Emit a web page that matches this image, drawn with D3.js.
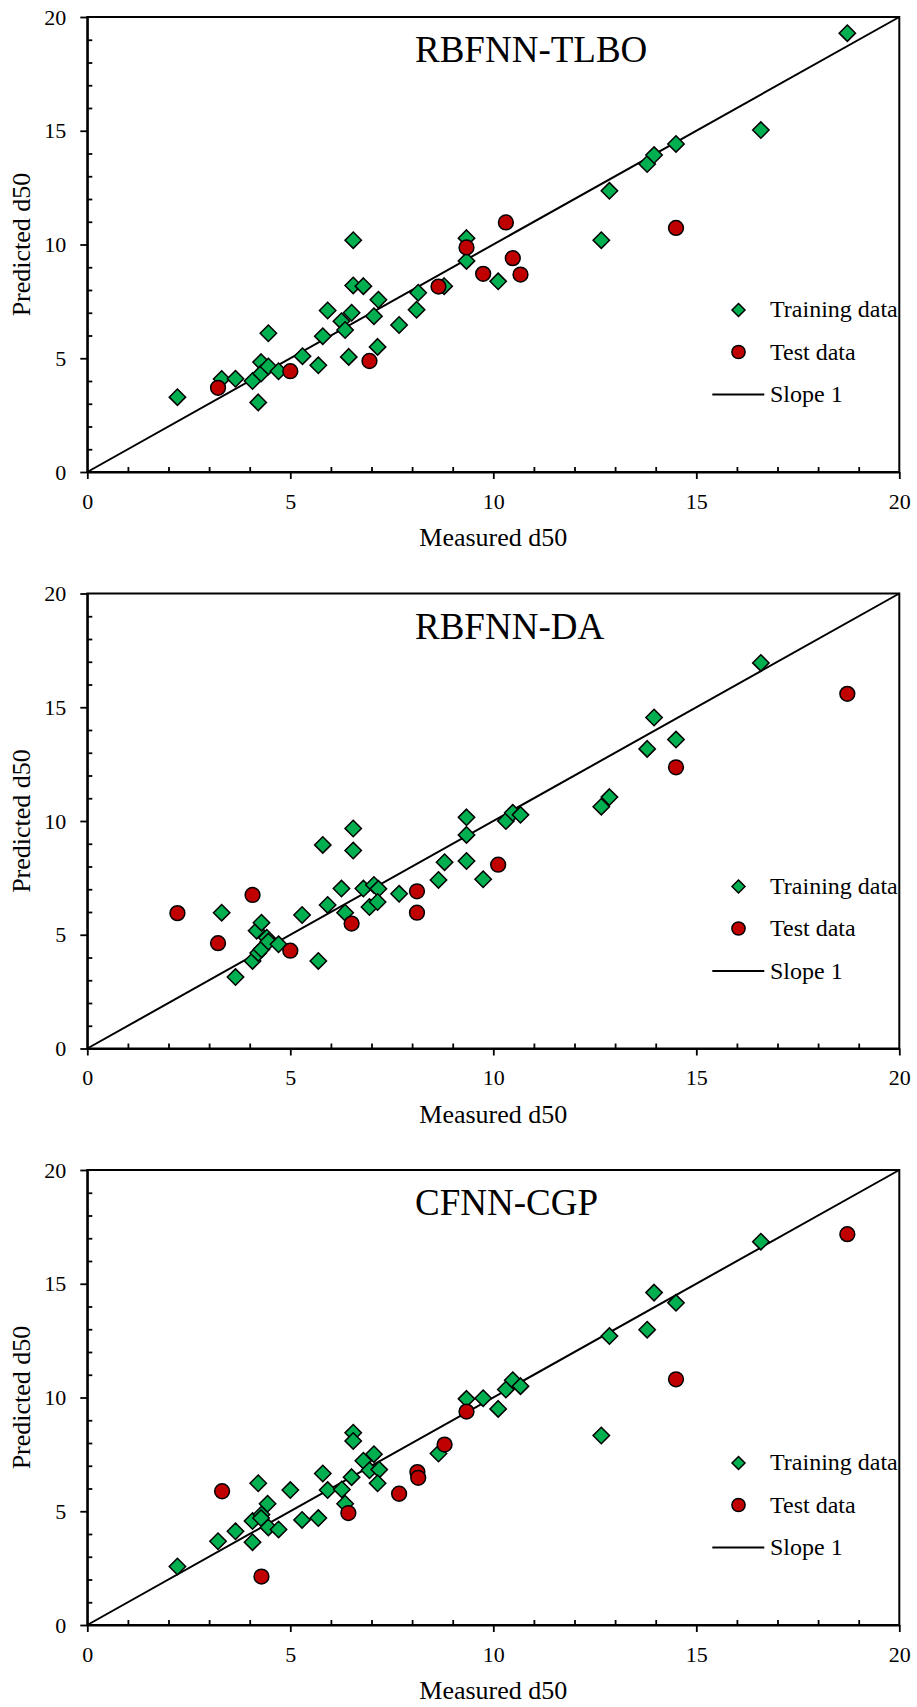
<!DOCTYPE html>
<html>
<head>
<meta charset="utf-8">
<script src="https://cdnjs.cloudflare.com/ajax/libs/d3/7.8.5/d3.min.js"></script>
<style>
  body { margin: 0; background: #fff; }
  text { font-family: 'Liberation Serif', 'Times New Roman', serif; fill: #000; }
</style>
</head>
<body>
<div class="chartContainer"></div>
<script>
const titles = ['RBFNN-TLBO', 'RBFNN-DA', 'CFNN-CGP'];
const majorTicks = [0, 5, 10, 15, 20];
const legendLabels = ['Training data', 'Test data', 'Slope 1'];
const xLabel = 'Measured d50';
const yLabel = 'Predicted d50';

// [measured, predicted]
const tlboTrain = [[2.22,3.29],[3.31,4.09],[3.65,4.10],[4.07,4.00],[4.21,3.06],[4.28,4.83],[4.28,4.33],[4.46,4.64],[4.46,6.10],[4.71,4.43],[5.30,5.09],[5.69,4.69],[5.80,5.97],[5.92,7.10],[6.26,6.63],[6.35,6.24],[6.44,5.06],[6.51,7.00],[6.55,8.20],[6.55,10.19],[6.80,8.17],[7.06,6.85],[7.17,7.57],[7.15,5.50],[7.68,6.46],[8.11,7.13],[8.15,7.88],[8.79,8.17],[9.34,10.28],[9.34,9.28],[10.12,8.38],[12.66,10.19],[12.86,12.36],[13.79,13.54],[13.96,13.93],[14.50,14.42],[16.59,15.03],[18.72,19.29]];
const tlboTest = [[3.22,3.70],[5.00,4.43],[6.95,4.88],[8.65,8.15],[9.34,9.87],[9.75,8.71],[10.31,10.97],[10.48,9.40],[10.67,8.68],[14.50,10.73]];

const daTrain = [[3.31,5.97],[3.65,3.14],[4.07,3.85],[4.17,5.18],[4.21,4.20],[4.29,5.53],[4.29,4.36],[4.42,4.87],[4.46,4.70],[4.71,4.58],[5.29,5.87],[5.69,3.85],[5.80,8.95],[5.92,6.31],[6.26,7.03],[6.35,5.97],[6.55,9.67],[6.55,8.70],[6.80,7.03],[6.95,6.22],[7.06,7.19],[7.17,7.02],[7.15,6.44],[7.68,6.80],[8.65,7.41],[8.80,8.19],[9.34,10.16],[9.34,9.39],[9.34,8.24],[9.75,7.44],[10.31,10.00],[10.48,10.36],[10.67,10.27],[12.66,10.63],[12.86,11.05],[13.79,13.17],[13.96,14.55],[14.50,13.58],[16.59,16.95]];
const daTest = [[2.22,5.95],[3.22,4.63],[4.07,6.75],[5.00,4.30],[6.51,5.49],[8.12,6.91],[8.12,5.97],[10.12,8.08],[14.50,12.36],[18.72,15.59]];

const cgpTrain = [[2.22,2.57],[3.22,3.68],[3.65,4.12],[4.07,3.64],[4.07,4.57],[4.21,6.23],[4.29,4.86],[4.28,4.70],[4.44,5.33],[4.46,4.29],[4.71,4.20],[5.00,5.93],[5.29,4.62],[5.69,4.70],[5.80,6.66],[5.92,5.93],[6.27,5.96],[6.35,5.33],[6.51,6.50],[6.55,8.45],[6.55,8.09],[6.80,7.22],[6.95,6.80],[7.06,7.51],[7.19,6.83],[7.15,6.23],[8.65,7.54],[9.34,9.94],[9.75,9.97],[10.12,9.50],[10.31,10.35],[10.48,10.76],[10.67,10.50],[12.66,8.33],[12.86,12.70],[13.79,12.98],[13.96,14.61],[14.50,14.16],[16.59,16.85]];
const cgpTest = [[3.32,5.88],[4.29,2.13],[6.43,4.92],[7.68,5.77],[8.13,6.72],[8.15,6.47],[8.80,7.93],[9.34,9.38],[14.50,10.80],[18.72,17.18]];

const trainSets = [tlboTrain, daTrain, cgpTrain];
const testSets = [tlboTest, daTest, cgpTest];

const w = 917;
const h = 1707;
const left = 87.3;
const plotW = 812;
const plotH = 455;
const tops = [17, 593.5, 1170];
const green = '#00b050';
const red = '#c00000';

const svg = d3.select('.chartContainer')
  .append('svg')
  .attr('width', w)
  .attr('height', h);

function diamond(r) {
  return 'M0,' + (-r) + 'L' + r + ',0L0,' + r + 'L' + (-r) + ',0Z';
}

function drawPanel(i) {
  const top = tops[i];
  const xScale = d3.scaleLinear().domain([0, 20]).range([left, left + plotW]);
  const yScale = d3.scaleLinear().domain([0, 20]).range([top + plotH, top]);
  const minor = d3.range(0, 21).filter((v) => v % 5 !== 0);

  const g = svg.append('g');

  // frame
  g.append('rect')
    .attr('x', left)
    .attr('y', top)
    .attr('width', plotW)
    .attr('height', plotH)
    .attr('fill', 'none')
    .attr('stroke', '#000')
    .attr('stroke-width', 2);

  // minor ticks (inside)
  g.append('g')
    .attr('transform', 'translate(0,' + (top + plotH) + ')')
    .call(d3.axisBottom(xScale).tickValues(minor).tickSize(-5).tickFormat(''))
    .call((s) => s.select('.domain').remove());
  g.append('g')
    .attr('transform', 'translate(' + left + ',0)')
    .call(d3.axisLeft(yScale).tickValues(minor).tickSize(-5).tickFormat(''))
    .call((s) => s.select('.domain').remove());

  // major ticks (outside)
  const xAxis = g.append('g')
    .attr('transform', 'translate(0,' + (top + plotH) + ')')
    .call(d3.axisBottom(xScale).tickValues(majorTicks).tickSize(7).tickSizeOuter(0).tickFormat(d3.format('d')));
  xAxis.selectAll('text')
    .attr('y', 36.6)
    .attr('dy', 0)
    .style('font-size', '22px')
    .style('font-family', "'Liberation Serif', serif");

  const yAxis = g.append('g')
    .attr('transform', 'translate(' + left + ',0)')
    .call(d3.axisLeft(yScale).tickValues(majorTicks).tickSize(7).tickSizeOuter(0).tickFormat(d3.format('d')));
  yAxis.selectAll('text')
    .attr('x', -21)
    .style('font-size', '22px')
    .style('font-family', "'Liberation Serif', serif");

  g.selectAll('.tick line').attr('stroke', '#000').attr('stroke-width', 1.8);
  g.selectAll('.domain').attr('stroke', '#000').attr('stroke-width', 2);

  // slope 1 line
  g.append('line')
    .attr('x1', xScale(0))
    .attr('y1', yScale(0))
    .attr('x2', xScale(20))
    .attr('y2', yScale(20))
    .attr('stroke', '#000')
    .attr('stroke-width', 2);

  g.selectAll('path.train')
    .data(trainSets[i])
    .enter()
    .append('path')
    .attr('class', 'train')
    .attr('d', diamond(8.2))
    .attr('transform', (d) => 'translate(' + xScale(d[0]) + ',' + yScale(d[1]) + ')')
    .attr('fill', green)
    .attr('stroke', '#000')
    .attr('stroke-width', 1.5);

  g.selectAll('circle.test')
    .data(testSets[i])
    .enter()
    .append('circle')
    .attr('class', 'test')
    .attr('cx', (d) => xScale(d[0]))
    .attr('cy', (d) => yScale(d[1]))
    .attr('r', 7.4)
    .attr('fill', red)
    .attr('stroke', '#000')
    .attr('stroke-width', 1.5);

  // title
  g.append('text')
    .attr('x', 415)
    .attr('y', top + 45)
    .style('font-size', '37px')
    .text(titles[i]);

  // axis titles
  g.append('text')
    .attr('x', left + plotW / 2)
    .attr('y', top + plotH + 74)
    .attr('text-anchor', 'middle')
    .style('font-size', '26px')
    .text(xLabel);

  g.append('text')
    .attr('transform', 'translate(30,' + (top + plotH / 2) + ')rotate(-90)')
    .attr('text-anchor', 'middle')
    .style('font-size', '26px')
    .text(yLabel);

  // legend
  const lx = 738.5;
  const ly = top + 293;
  const legend = g.append('g');
  legend.append('path')
    .attr('d', diamond(6.5))
    .attr('transform', 'translate(' + lx + ',' + ly + ')')
    .attr('fill', green)
    .attr('stroke', '#000')
    .attr('stroke-width', 1.5);
  legend.append('circle')
    .attr('cx', lx)
    .attr('cy', ly + 42)
    .attr('r', 6.6)
    .attr('fill', red)
    .attr('stroke', '#000')
    .attr('stroke-width', 1.5);
  legend.append('line')
    .attr('x1', 712.3)
    .attr('x2', 764.3)
    .attr('y1', ly + 84.5)
    .attr('y2', ly + 84.5)
    .attr('stroke', '#000')
    .attr('stroke-width', 2);
  legend.selectAll('text')
    .data(legendLabels)
    .enter()
    .append('text')
    .attr('x', 770)
    .attr('y', (d, k) => ly + 7 + k * 42.5)
    .style('font-size', '24px')
    .text((d) => d);
}

titles.forEach((t, i) => drawPanel(i));
</script>
</body>
</html>
